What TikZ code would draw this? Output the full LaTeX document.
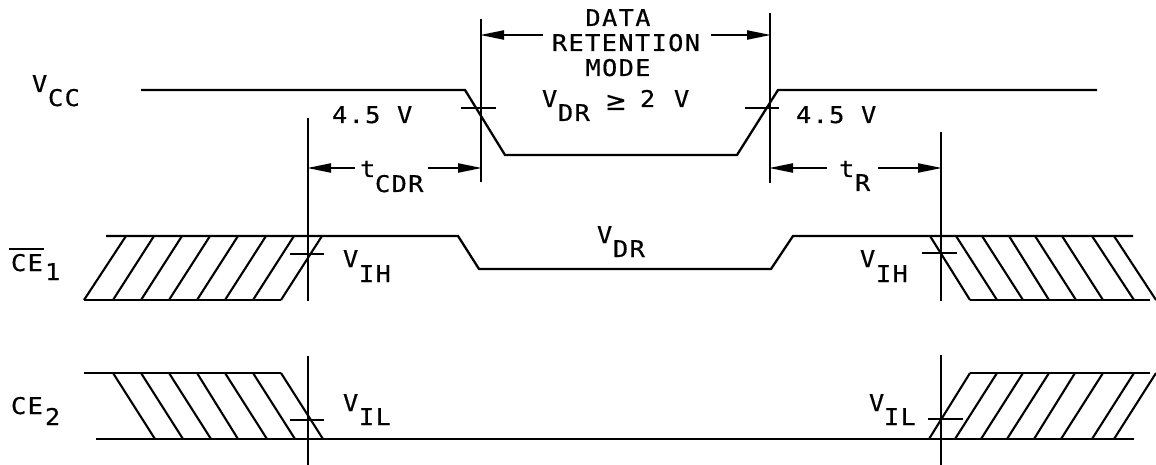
\documentclass[tikz,border=0pt]{standalone}
\usepackage{fontspec}
\setmainfont[LetterSpace=6,FakeStretch=1.1,FakeBold=0.5]{DejaVu Sans Mono}
\newfontfamily\symfont[FakeBold=0.3]{DejaVu Sans}
\usetikzlibrary{arrows.meta}
\tikzset{
  wave/.style={line width=2.3pt,line join=miter,black},
  guide/.style={line width=2.3pt,black},
  hatch/.style={line width=2.1pt,black},
  dim/.style={line width=2.1pt,black,-{Triangle[length=24pt,width=9pt]},shorten >=-1pt},
  lab/.style={anchor=base west,inner sep=0pt,outer sep=0pt,font=\fontsize{23}{23}\selectfont,text=black},
  mid/.style={anchor=base,inner sep=0pt,outer sep=0pt,font=\fontsize{23}{23}\selectfont,text=black}
}
\begin{document}
\begin{tikzpicture}[x=1pt,y=-1pt]
\useasboundingbox (0,0) rectangle (1156,465);
% guides
\coordinate (g1t) at (308,118); \coordinate (g1b) at (308,301);
\coordinate (g1c) at (308,356); \coordinate (g1d) at (308,465);
\coordinate (g2t) at (481,19);  \coordinate (g2b) at (481,182);
\coordinate (g3t) at (770,13);  \coordinate (g3b) at (770,183);
\coordinate (g4t) at (941,132); \coordinate (g4b) at (941,301);
\coordinate (g4c) at (941,355); \coordinate (g4d) at (941,465);
\draw[guide] (g1t) -- (g1b);
\draw[guide] (g1c) -- (g1d);
\draw[guide] (g2t) -- (g2b);
\draw[guide] (g3t) -- (g3b);
\draw[guide] (g4t) -- (g4b);
\draw[guide] (g4c) -- (g4d);
% waves
\draw[wave] (141,90) -- (465,90) -- (505,155) -- (737,155) -- (778,90) -- (1097,90);
\draw[wave] (106,236) -- (458,236) -- (479,269) -- (771,269) -- (793,236) -- (1133,236);
\draw[wave] (84,300) -- (281,300);
\draw[wave] (970,300) -- (1150,300);
\draw[wave] (84,373) -- (281,373);
\draw[wave] (970,373) -- (1150,373);
\draw[wave] (96,439) -- (1134,439);
% ticks
\draw[hatch] (461,108) -- (496,108);
\draw[hatch] (745,108) -- (779,108);
\draw[hatch] (290,254) -- (324,254);
\draw[hatch] (290,420) -- (324,420);
\draw[hatch] (922,253) -- (957,253);
\draw[hatch] (928,419) -- (963,419);
% hatching CE1 left
\foreach \a/\b in {84/126,113/154,141/182,169/210,197/238,225/266,253/294,281/322}
  \draw[hatch] (\a,300) -- (\b,236);
% hatching CE2 left
\foreach \a/\b in {113/155,141/183,169/211,197/238,225/267,253/295,281/323}
  \draw[hatch] (\a,373) -- (\b,439);
% hatching CE1 right
\foreach \a/\b in {930/970,956/997,982/1023,1009/1049,1035/1076,1062/1103,1092/1134,1114/1156}
  \draw[hatch] (\a,236) -- (\b,300);
% hatching CE2 right
\foreach \a/\b in {970/929,997/955,1023/981,1049/1007,1075/1034,1103/1061,1134/1092,1156/1114}
  \draw[hatch] (\a,373) -- (\b,439);
% labels
\node[mid] (data) at (618,26) {DATA};
\node[mid] (ret) at (626,51) {RETENTION};
\node[mid] (mode) at (618,76) {MODE};
\node[lab] (vcc) at (32,92) {V};
\node[lab] (vccs) at (48,106) {CC};
\node[lab] (f1) at (332,123) {4.5 V};
\node[lab] (f2) at (796,123) {4.5 V};
\node[lab] (vdr) at (542,107) {V};
\node[lab] (vdrs) at (558,121) {DR};
\node[lab] (geq) at (605,110) {{\symfont\fontsize{26}{26}\selectfont ≥}};
\node[lab] (two) at (640,107) {2};
\node[lab] (twov) at (674,107) {V};
\node[lab] (tc) at (360,177) {t};
\node[lab] (tcs) at (375,192) {CDR};
\node[lab] (tr) at (839,177) {t};
\node[lab] (trs) at (855,191) {R};
\node[lab] (ce1) at (11,271) {CE};
\node[lab] (ce1s) at (45,280) {1};
\coordinate (ovl) at (9,249); \coordinate (ovr) at (44,249);
\draw[hatch] (ovl) -- (ovr);
\node[lab] (ce2) at (11,414) {CE};
\node[lab] (ce2s) at (45,425) {2};
\node[lab] (vih1) at (343,267) {V};
\node[lab] (vih1s) at (359,282) {IH};
\node[lab] (vil1) at (343,411) {V};
\node[lab] (vil1s) at (359,425) {IL};
\node[lab] (vih2) at (860,267) {V};
\node[lab] (vih2s) at (876,282) {IH};
\node[lab] (vil2) at (869,411) {V};
\node[lab] (vil2s) at (884,425) {IL};
\node[lab] (vdm) at (597,243) {V};
\node[lab] (vdms) at (613,257) {DR};
% dimension arrows
\coordinate (a1) at (543,35); \coordinate (a2) at (481,35);
\coordinate (a3) at (711,35); \coordinate (a4) at (770,35);
\coordinate (a5) at (355,168); \coordinate (a6) at (308,168);
\coordinate (a7) at (428,168); \coordinate (a8) at (481,168);
\coordinate (a9) at (827,168); \coordinate (a10) at (770,168);
\coordinate (a11) at (878,168); \coordinate (a12) at (941,168);
\draw[dim] (a1) -- (a2);
\draw[dim] (a3) -- (a4);
\draw[dim] (a5) -- (a6);
\draw[dim] (a7) -- (a8);
\draw[dim] (a9) -- (a10);
\draw[dim] (a11) -- (a12);
\end{tikzpicture}
\end{document}
